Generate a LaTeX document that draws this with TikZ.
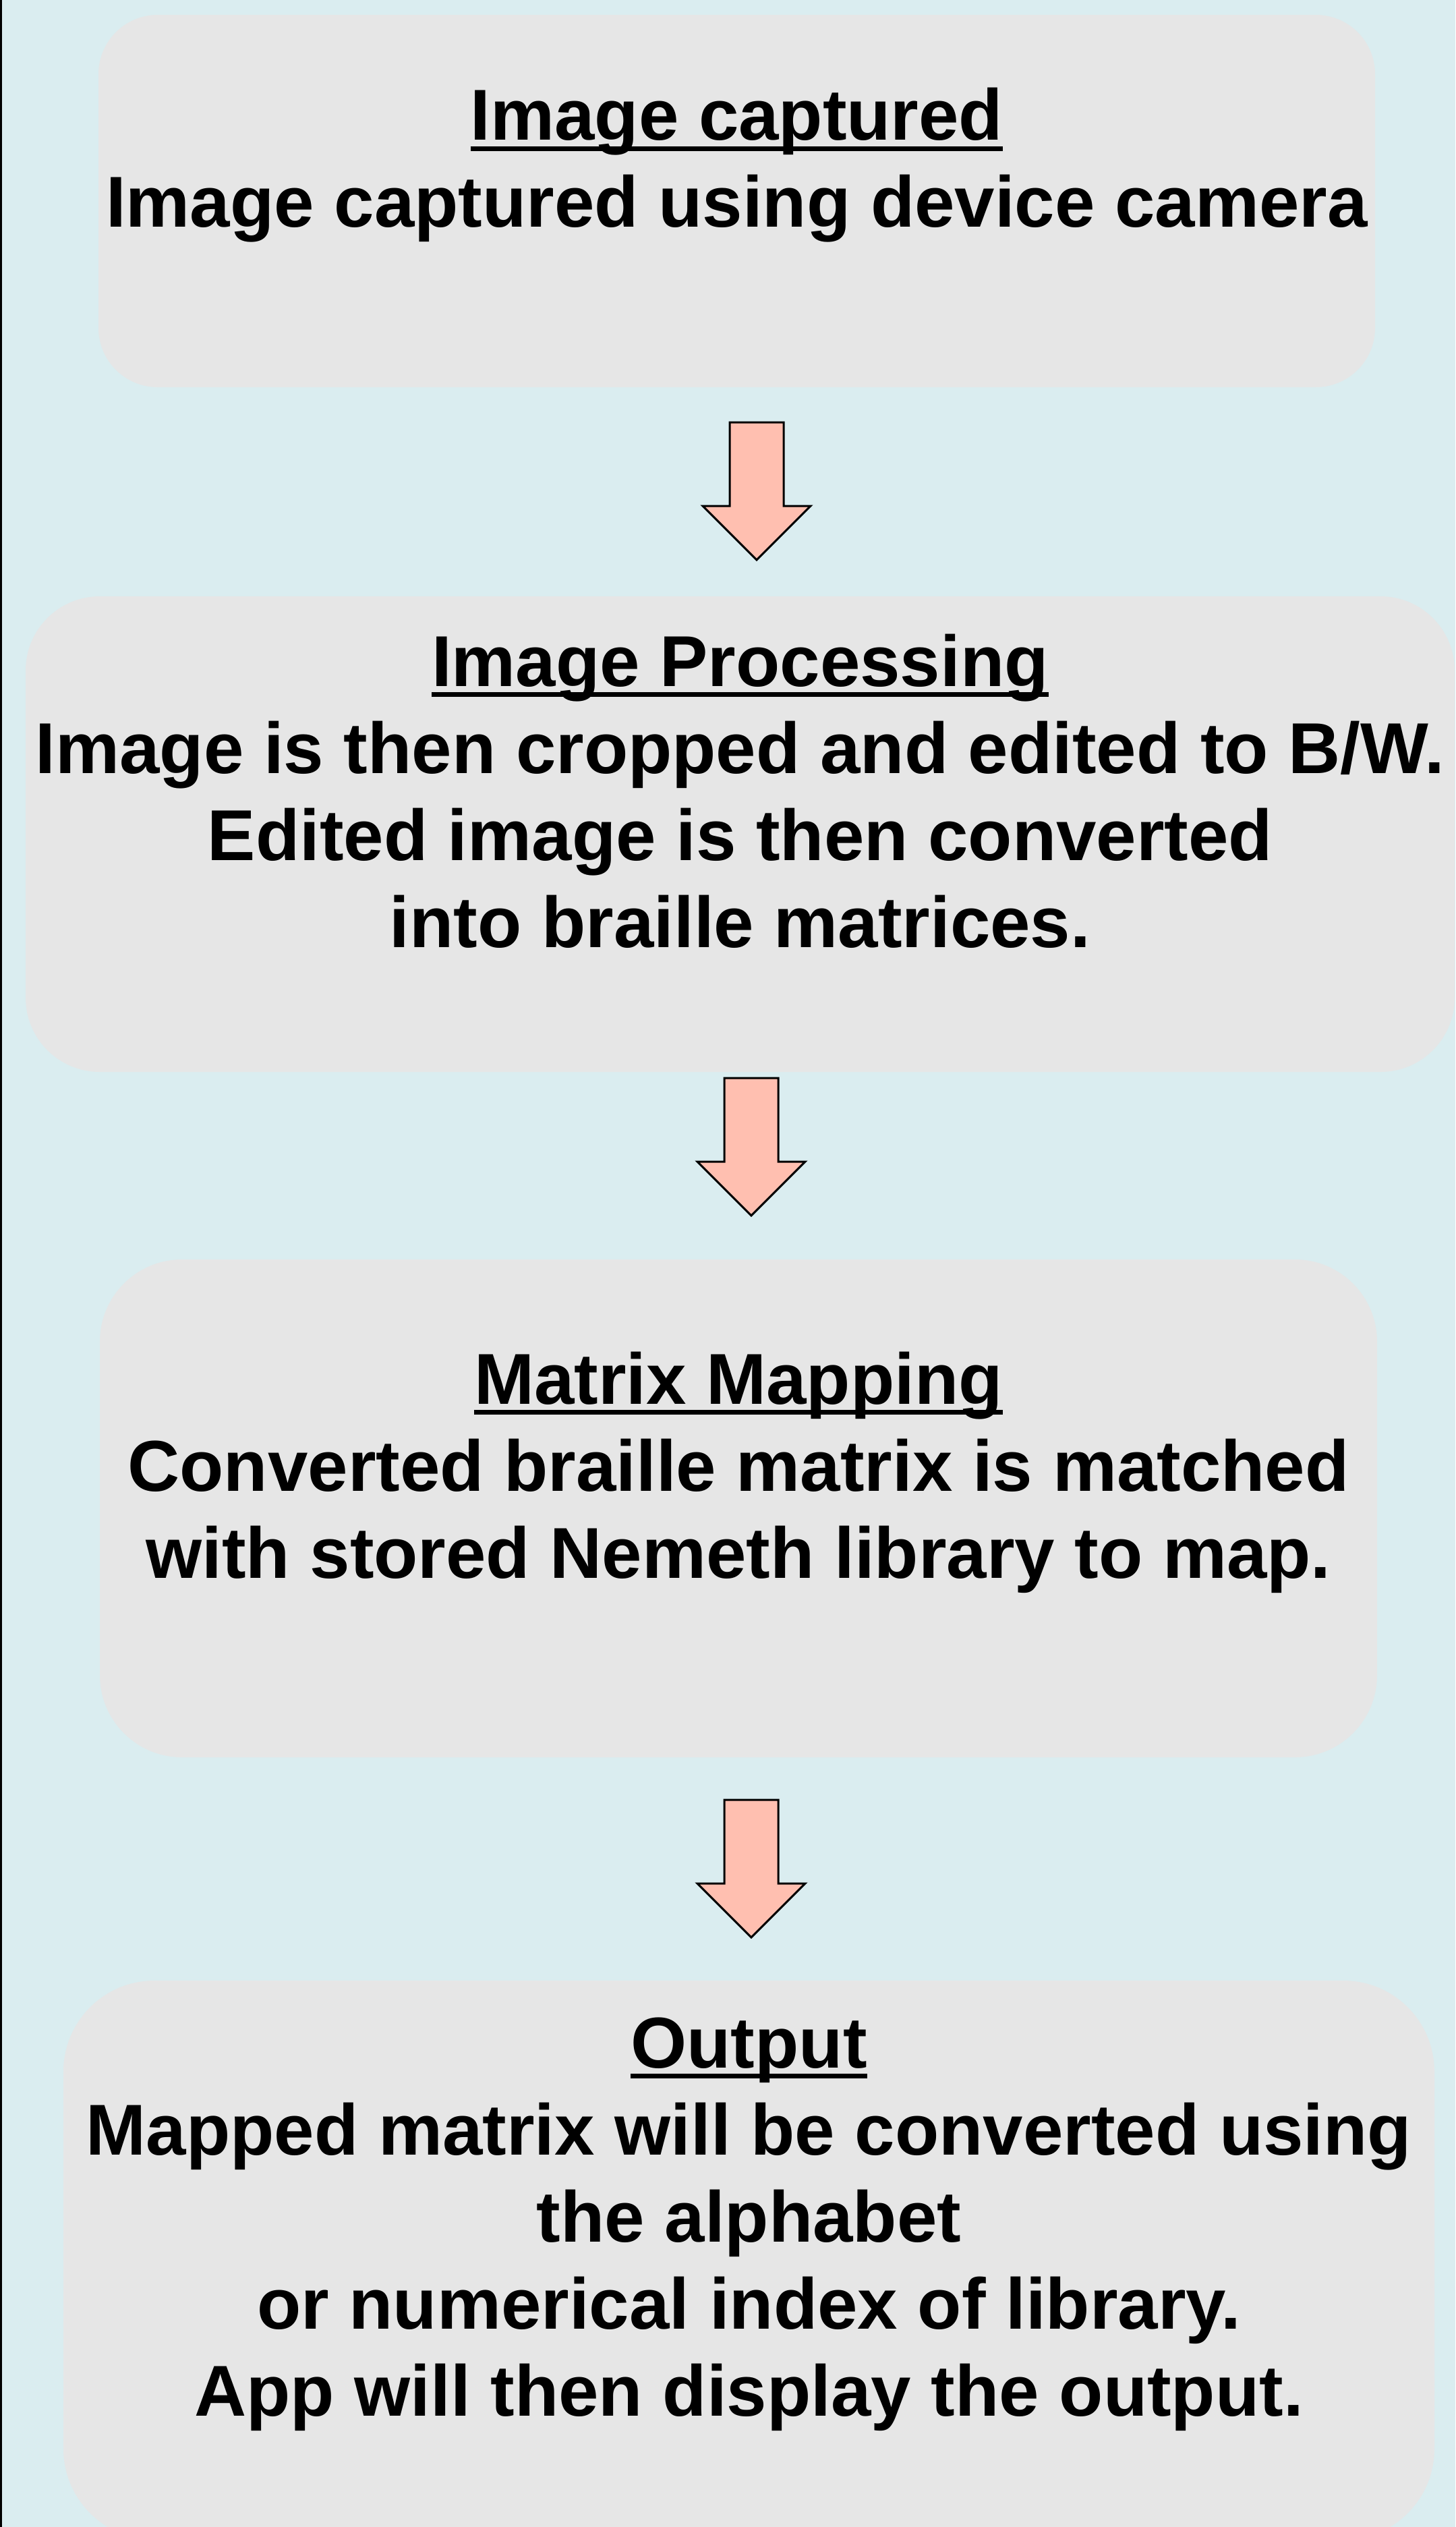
\documentclass[tikz,border=0pt]{standalone}
\usepackage{fontspec}
\setmainfont{Liberation Sans}
\usetikzlibrary{positioning, calc}
\definecolor{bgcyan}{HTML}{DAEDF0}
\definecolor{boxgray}{HTML}{E6E6E6}
\definecolor{arrsalmon}{HTML}{FFBFB0}
\newcommand{\stagetitle}[1]{\setbox0\hbox{#1}\rlap{\rule[-0.16cm]{\wd0}{0.07cm}}\box0}

\begin{document}
\begin{tikzpicture}[
  font=\fontsize{30.4pt}{36.7pt}\selectfont\bfseries,
  every node/.style={align=center},
  stage/.style={fill=boxgray, inner sep=0pt},
  blockarr/.style={draw=black, line width=0.85pt, fill=arrsalmon, line join=miter}
]
\useasboundingbox (0,0) rectangle (21.58,-37.46);
\fill[bgcyan] (0,0) rectangle (21.58,-37.46);
\draw[line width=0.9pt] (0.015,0) -- (0.015,-37.46);

\node[stage, minimum width=18.93cm, minimum height=5.52cm, rounded corners=0.88cm]
  (capture) at (10.925,-2.98)
  {\stagetitle{Image captured}\\Image captured using device camera\\\mbox{}};
\node[stage, minimum width=21.19cm, minimum height=7.05cm, rounded corners=1.1cm]
  (process) at (10.975,-12.365)
  {\stagetitle{Image Processing}\\Image is then cropped and edited to B/W.\\
   Edited image is then converted\\into braille matrices.\\\mbox{}};
\node[stage, minimum width=18.94cm, minimum height=7.38cm, rounded corners=1.22cm]
  (mapping) at (10.95,-22.36)
  {\stagetitle{Matrix Mapping}\\Converted braille matrix is matched\\
   with stored Nemeth library to map.\\\mbox{}};
\node[stage, minimum width=20.33cm, minimum height=8.29cm, rounded corners=1.35cm]
  (output) at (11.105,-33.505)
  {\stagetitle{Output}\\Mapped matrix will be converted using\\the alphabet\\
   or numerical index of library.\\App will then display the output.\\\mbox{}};

% block arrows between the stages
\foreach \n/\x/\y in {1/11.22/-6.26, 2/11.14/-15.98, 3/11.14/-26.68} {
  \coordinate (arr\n) at (\x,\y);
  \draw[blockarr] ($(arr\n)+(-0.4,0)$) -- ++(0.8,0) -- ++(0,-1.24) -- ++(0.4,0)
    -- ($(arr\n)+(0,-2.04)$) -- ++(-0.8,0.8) -- ++(0.4,0) -- cycle;
}
\end{tikzpicture}
\end{document}
